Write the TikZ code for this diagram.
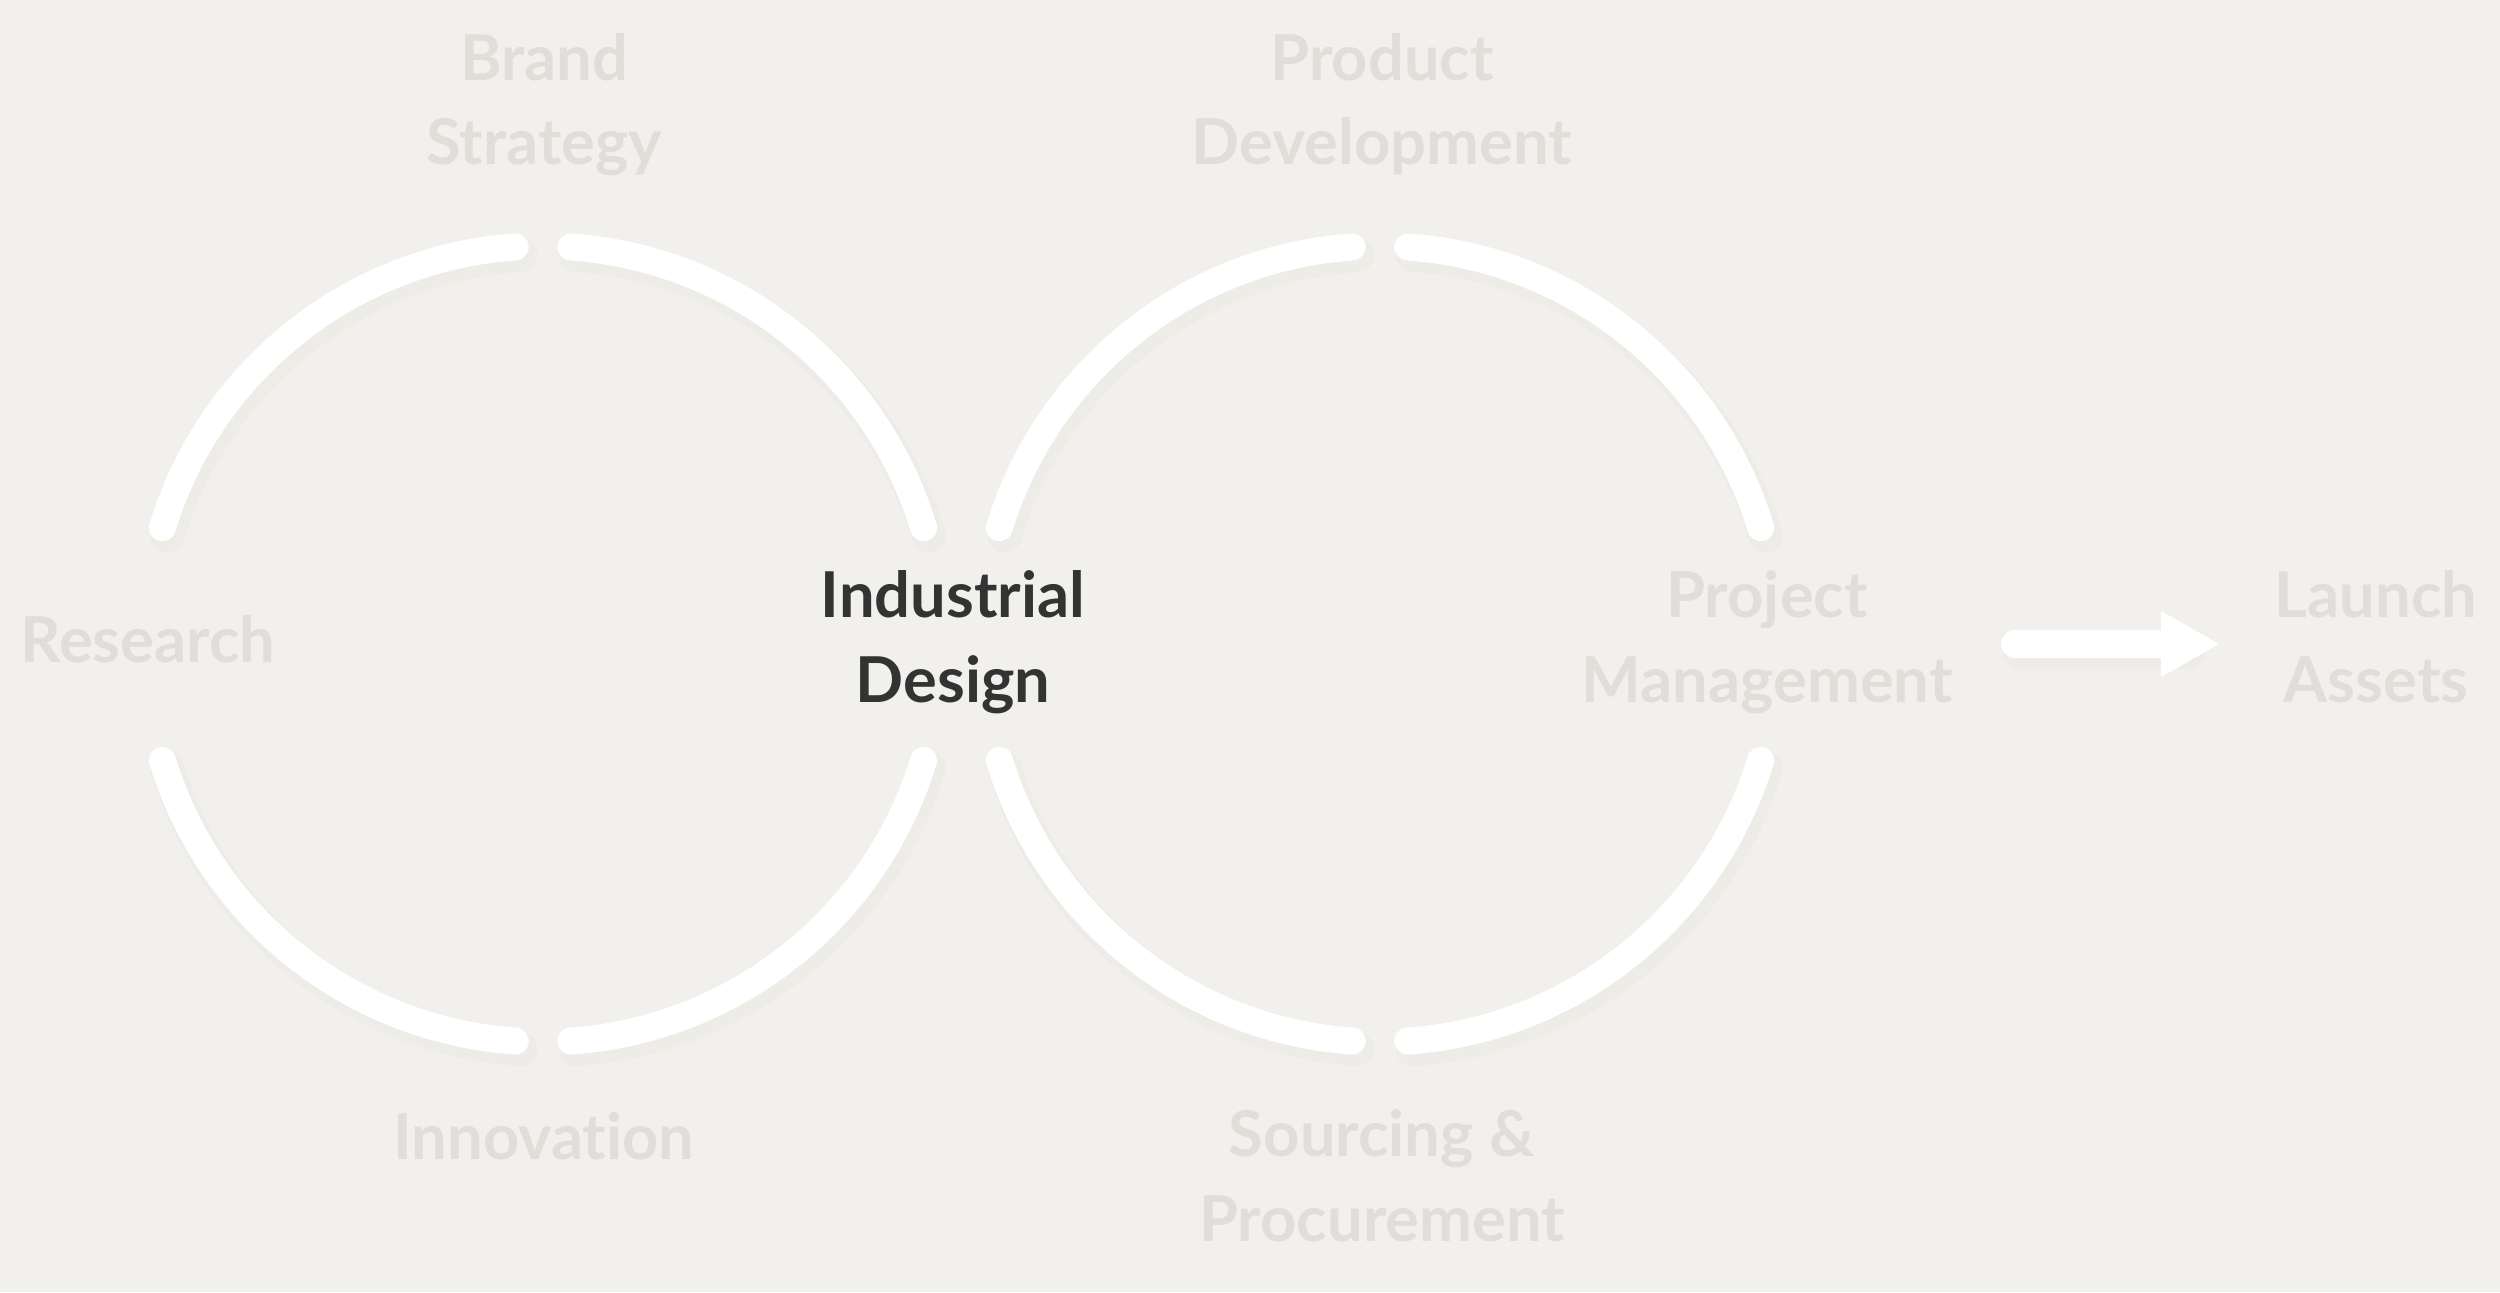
\documentclass[tikz,border=0pt]{standalone}
\usepackage{fontspec}
\setmainfont{Lato}[Ligatures=NoCommon]
\usetikzlibrary{arrows.meta}

\definecolor{paper}{HTML}{F1F0EC}
\definecolor{faded}{HTML}{DFDED9}
\definecolor{ink}{HTML}{333333}
\definecolor{shade}{HTML}{E6E5E0}

\begin{document}
\begin{tikzpicture}[
    ring/.style={draw=white, line width=0.27cm, line cap=round},
    ringshadow/.style={draw=shade, line width=0.34cm, line cap=round, opacity=0.35},
    stage/.style={align=center, inner sep=0pt, text=faded, font=\fontsize{18}{24}\selectfont\bfseries},
    focus/.style={stage, text=ink}
]
\fill[paper] (0,0) rectangle (25,12.92);
\useasboundingbox (0,0) rectangle (25,12.92);

% loop centres
\coordinate (leftloop) at (5.43,6.48);
\coordinate (rightloop) at (13.80,6.48);

% soft shadow under the arcs
\foreach \c in {leftloop,rightloop}{
  \foreach \a/\b in {94/163, 17/86, 197/266, 274/343}{
    \draw[ringshadow] ([shift={(0.05,-0.08)}]\c) ++(\a:3.98) arc[start angle=\a, end angle=\b, radius=3.98];
  }
}

% the two loops, four arcs each
\foreach \c in {leftloop,rightloop}{
  \foreach \a/\b in {94/163, 17/86, 197/266, 274/343}{
    \draw[ring] (\c) ++(\a:3.98) arc[start angle=\a, end angle=\b, radius=3.98];
  }
}

% Labels (base = last line)
\node (brand) at (5.44,11.27) [stage, anchor=base] {Brand\\Strategy};
\node (product) at (13.82,11.27) [stage, anchor=base] {Product\\Development};
\node (research) at (1.48,6.30) [stage, anchor=base] {Research};
\node (industrial) at (9.53,5.90) [focus, anchor=base] {Industrial\\Design};
\node (project) at (17.67,5.90) [stage, anchor=base] {Project\\Management};
\node (launch) at (23.76,5.90) [stage, anchor=base] {Launch\\Assets};
\node (innovation) at (5.44,1.33) [stage, anchor=base] {Innovation};
\node (sourcing) at (13.82,0.51) [stage, anchor=base] {Sourcing \&\\Procurement};

% Arrow to launch
\coordinate (arrowtail) at (20.15,6.48);
\coordinate (arrowtip) at (22.18,6.48);
\draw[draw=shade, opacity=0.35, line width=0.34cm, line cap=round] ([shift={(0.05,-0.08)}]arrowtail) -- ([shift={(-0.3,-0.08)}]arrowtip);
\draw[white, line width=0.28cm, line cap=round, -{Triangle[length=0.58cm, width=0.66cm, line width=0.5pt, round]}] (arrowtail) -- (arrowtip);

\end{tikzpicture}
\end{document}
